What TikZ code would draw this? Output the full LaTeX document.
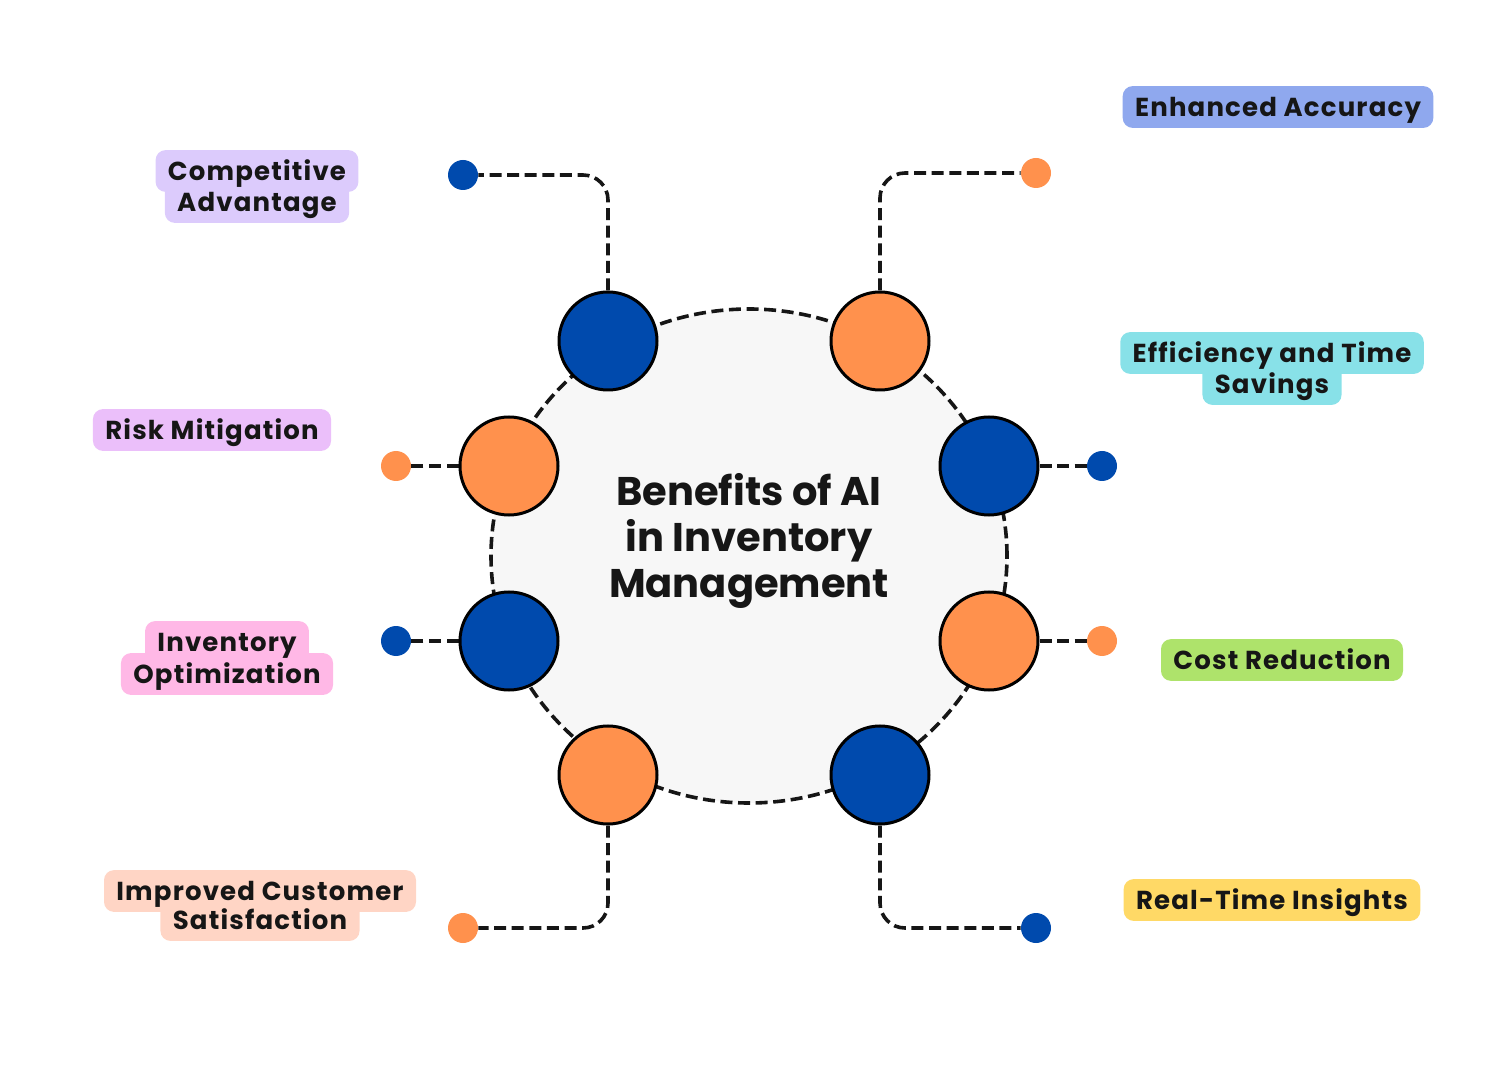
\documentclass[tikz,border=0pt]{standalone}
\usepackage{fontspec}
\setmainfont{Poppins}
\newfontfamily\labfont{Poppins}[LetterSpace=4.5]
\usetikzlibrary{backgrounds,shapes.geometric}
\definecolor{blu}{HTML}{004AAD}
\definecolor{ora}{HTML}{FF914D}
\definecolor{ringc}{HTML}{F7F7F7}
\definecolor{txt}{HTML}{161616}
\definecolor{cComp}{HTML}{DCCBFC}
\definecolor{cAcc}{HTML}{8FA8EE}
\definecolor{cEff}{HTML}{88E1E8}
\definecolor{cRisk}{HTML}{EBBFFA}
\definecolor{cInv}{HTML}{FFB8E6}
\definecolor{cCost}{HTML}{AEE36B}
\definecolor{cImp}{HTML}{FFD5C5}
\definecolor{cReal}{HTML}{FFD966}
\tikzset{
  big/.style={circle, draw=black, line width=1.5pt, minimum size=49pt, inner sep=0pt, fill=#1},
  dotnode/.style={circle, minimum size=15pt, inner sep=0pt, fill=#1},
  dashline/.style={draw=txt, line width=1.8pt, dash pattern=on 6pt off 2.8pt},
  conn/.style={dashline, rounded corners=12.5pt},
  lab/.style={font=\labfont\bfseries\fontsize{13}{15}\selectfont, text=txt, inner xsep=6pt, inner ysep=4pt, text height=11pt, text depth=1.5pt},
  labbg/.style={fill=#1, rounded corners=5pt}
}
\newcommand{\labfill}[2]{\fill[labbg=#2] (#1.south west) rectangle (#1.north east);}
\begin{document}
\begin{tikzpicture}[x=0.5pt, y=-0.5pt]
\useasboundingbox (0,0) rectangle (1500,1080);

% central ring
\node[ellipse, dashline, fill=ringc,
      minimum width=258pt, minimum height=247pt, inner sep=0pt] (ring) at (749,556) {};
\node[font=\bfseries\fontsize{20}{23}\selectfont, text=txt, align=center] (title) at (749,541)
  {Benefits of AI\\in Inventory\\Management};

% big circles
\node[big=blu] (c1) at (608,341) {};
\node[big=ora] (c2) at (880,341) {};
\node[big=blu] (c3) at (989,466) {};
\node[big=ora] (c4) at (989,641) {};
\node[big=blu] (c5) at (880,775) {};
\node[big=ora] (c6) at (608,775) {};
\node[big=blu] (c7) at (509,641) {};
\node[big=ora] (c8) at (509,466) {};

% small dots
\node[dotnode=blu] (d1) at (463,175) {};
\node[dotnode=ora] (d2) at (1036,173) {};
\node[dotnode=blu] (d3) at (1102,466) {};
\node[dotnode=ora] (d4) at (1102,641) {};
\node[dotnode=blu] (d5) at (1036,928) {};
\node[dotnode=ora] (d6) at (463,928) {};
\node[dotnode=blu] (d7) at (396,641) {};
\node[dotnode=ora] (d8) at (396,466) {};

% connectors
\begin{pgfonlayer}{background}
\draw[conn] (c1.north) |- (d1);
\draw[conn] (c2.north) |- (d2);
\draw[conn] (c3.east) -- (d3);
\draw[conn] (c4.east) -- (d4);
\draw[conn] (c5.south) |- (d5);
\draw[conn] (c6.south) |- (d6);
\draw[conn] (c7.west) -- (d7);
\draw[conn] (c8.west) -- (d8);
\end{pgfonlayer}

% labels
\node[lab] (l1a) at (257,171) {Competitive};
\node[lab] (l1b) at (257,202) {Advantage};
\node[lab] (l2) at (1278,107) {Enhanced Accuracy};
\node[lab] (l3a) at (1272,353) {Efficiency and Time};
\node[lab] (l3b) at (1272,384) {Savings};
\node[lab] (l4) at (212,430) {Risk Mitigation};
\node[lab] (l5a) at (227,642) {Inventory};
\node[lab] (l5b) at (227,674) {Optimization};
\node[lab] (l6) at (1282,660) {Cost Reduction};
\node[lab] (l7a) at (260,891) {Improved Customer};
\node[lab] (l7b) at (260,920) {Satisfaction};
\node[lab] (l8) at (1272,900) {Real-Time Insights};

\begin{pgfonlayer}{background}
\labfill{l1a}{cComp}\labfill{l1b}{cComp}
\labfill{l2}{cAcc}
\labfill{l3a}{cEff}\labfill{l3b}{cEff}
\labfill{l4}{cRisk}
\labfill{l5a}{cInv}\labfill{l5b}{cInv}
\labfill{l6}{cCost}
\labfill{l7a}{cImp}\labfill{l7b}{cImp}
\labfill{l8}{cReal}
\end{pgfonlayer}
\end{tikzpicture}
\end{document}
